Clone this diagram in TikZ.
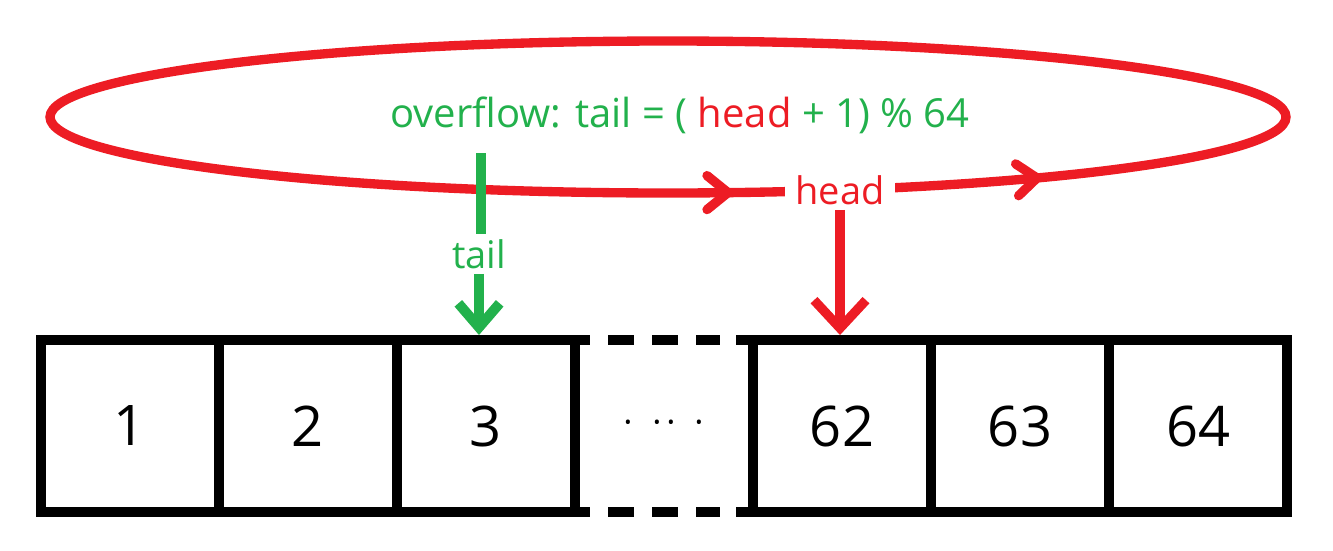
\documentclass[tikz,border=0pt]{standalone}
\usepackage{fontspec}
\setmainfont{Open Sans}
\usetikzlibrary{arrows.meta}
\definecolor{pred}{HTML}{ED1C24}
\definecolor{pgreen}{HTML}{22B14C}
\begin{document}
\begin{tikzpicture}[x=0.75pt,y=-0.75pt,
  cell/.style={draw=black,line width=7.5pt,minimum width=133.5pt,minimum height=129pt,inner sep=0pt,font=\fontsize{42}{50}\selectfont},
  lbl/.style={font=\fontsize{28.5}{34}\selectfont,inner sep=0pt},
  redline/.style={draw=pred,line width=7pt},
  greenline/.style={draw=pgreen,line width=7.5pt},
  chev/.style={redline,line cap=round,line join=miter},
]
\useasboundingbox (0,0) rectangle (1333,550);
\fill[white] (0,0) rectangle (1333,550);

% array cells
\node[cell] (c1) at (130,426) {1};
\node[cell] (c2) at (308,426) {2};
\node[cell] (c3) at (486,426) {3};
\node[cell,draw=none,outer sep=0pt] (c4) at (664,426) {};
\node[cell] (c5) at (842,426) {62};
\node[cell] (c6) at (1020,426) {63};
\node[cell] (c7) at (1198,426) {64};
\draw[line width=7.5pt,dash pattern=on 11.25pt off 13.5pt on 19.5pt off 13.5pt on 19.5pt off 13.5pt on 18pt off 12pt on 20pt]
  (c4.north west) -- (c4.north east);
\draw[line width=7.5pt,dash pattern=on 11.25pt off 13.5pt on 19.5pt off 13.5pt on 19.5pt off 13.5pt on 18pt off 12pt on 20pt]
  (c4.south west) -- (c4.south east);
\node[font=\fontsize{26}{26}\selectfont,anchor=base,inner sep=0pt] (dots) at (663.5,434)
  {\makebox[0pt]{·}\hspace{21.75pt}\makebox[0pt]{·}\hspace{10.5pt}\makebox[0pt]{·}\hspace{21pt}\makebox[0pt]{·}};

% loop
\draw[redline] (668,117) ellipse [x radius=463.5pt, y radius=57pt];
\draw[chev] (707,175.6) -- (728,192.6) -- (707,209.6);
\draw[chev] (1015.6,163.9) -- (1037,178) -- (1018.6,195.7);

\node[lbl,text=pgreen,anchor=base,font=\fontsize{30}{36}\selectfont] (formula) at (680,127)
  {overflow: tail = ( \textcolor{pred}{head} + 1) \% 64};

\node[lbl,text=pred,fill=white,inner xsep=8pt,inner ysep=4pt,anchor=base] (headlbl) at (840,204) {head};
\node[lbl,text=pgreen,anchor=base,inner sep=4pt] (taillbl) at (479,268) {tail};

% pointers
\coordinate (ttop) at (481,153);
\draw[greenline] (ttop) -- (taillbl.north -| ttop);
\draw[greenline,-{Straight Barb[length=18pt,width=31pt]}] (taillbl.south) -- (taillbl.south |- c3.north);
\draw[redline,-{Straight Barb[length=21pt,width=39pt]}] (headlbl.south) -- (headlbl.south |- c5.north);
\end{tikzpicture}
\end{document}
